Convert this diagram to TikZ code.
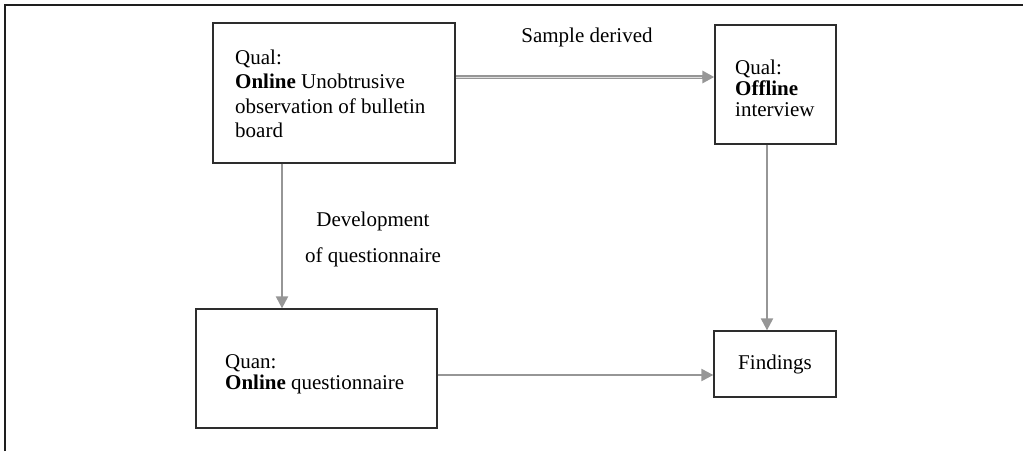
\documentclass[tikz,border=0pt]{standalone}
\usepackage{fontspec}
\setmainfont{Liberation Serif}
\usetikzlibrary{arrows.meta}
\definecolor{arrgray}{RGB}{150,150,150}
\definecolor{boxline}{RGB}{45,45,45}
\definecolor{frameline}{RGB}{30,30,30}
\begin{document}
\begin{tikzpicture}[x=1pt,y=-1pt,
  box/.style={draw=boxline, line width=1.3pt, rectangle, inner sep=0pt},
  txt/.style={inner sep=0pt, align=left},
  arr/.style={draw=arrgray, line width=2.2pt, -{Triangle[length=12pt,width=12pt]}},
  every node/.style={font=\fontsize{21}{24.5}\selectfont}
]
\useasboundingbox (0,0) rectangle (1023,451);
% frame
\coordinate (fTL) at (5,5);
\coordinate (fTR) at (1023,5);
\coordinate (fBL) at (5,451);
\draw[frameline, line width=2.6pt] (fBL) -- (fTL) -- (fTR);

% boxes
\node[box, minimum width=242pt, minimum height=140pt] (A) at (334,93) {};
\node[box, minimum width=121pt, minimum height=119pt] (B) at (775.5,84.5) {};
\node[box, minimum width=241pt, minimum height=119pt] (C) at (316.5,368.5) {};
\node[box, minimum width=122pt, minimum height=66pt] (F) at (775,364) {Findings};

% box texts
\node[txt, anchor=north west] (At) at (235,49.5) {Qual:\\\textbf{Online} Unobtrusive\\observation of bulletin\\board};
\node[txt, anchor=north west, font=\fontsize{21}{21}\selectfont] (Bt) at (735,59.5) {Qual:\\\textbf{Offline}\\interview};
\node[txt, anchor=north west, font=\fontsize{21}{21}\selectfont] (Ct) at (225,354.5) {Quan:\\\textbf{Online} questionnaire};

% labels
\node[inner sep=0pt, anchor=base] (Ls) at (587,42) {Sample derived};
\node[inner sep=0pt, anchor=north, align=center, font=\fontsize{21}{36}\selectfont] (Ld) at (373,211.7) {Development\\of questionnaire};

% connector guides
\coordinate (yAB) at (0,77);
\coordinate (xAC) at (282,0);
\coordinate (xBF) at (767,0);
\coordinate (yCF) at (0,375);

% A -> B (double-looking line)
\draw[arr, line width=3.2pt] (A.east |- yAB) -- (B.west |- yAB);
\draw[draw=arrgray!30, line width=1pt, shorten >=12pt] (A.east |- yAB) -- (B.west |- yAB);
% A -> C
\draw[arr] (A.south -| xAC) -- (C.north -| xAC);
% B -> F
\draw[arr] (B.south -| xBF) -- (F.north -| xBF);
% C -> F
\draw[arr] (C.east |- yCF) -- (F.west |- yCF);
\end{tikzpicture}
\end{document}
